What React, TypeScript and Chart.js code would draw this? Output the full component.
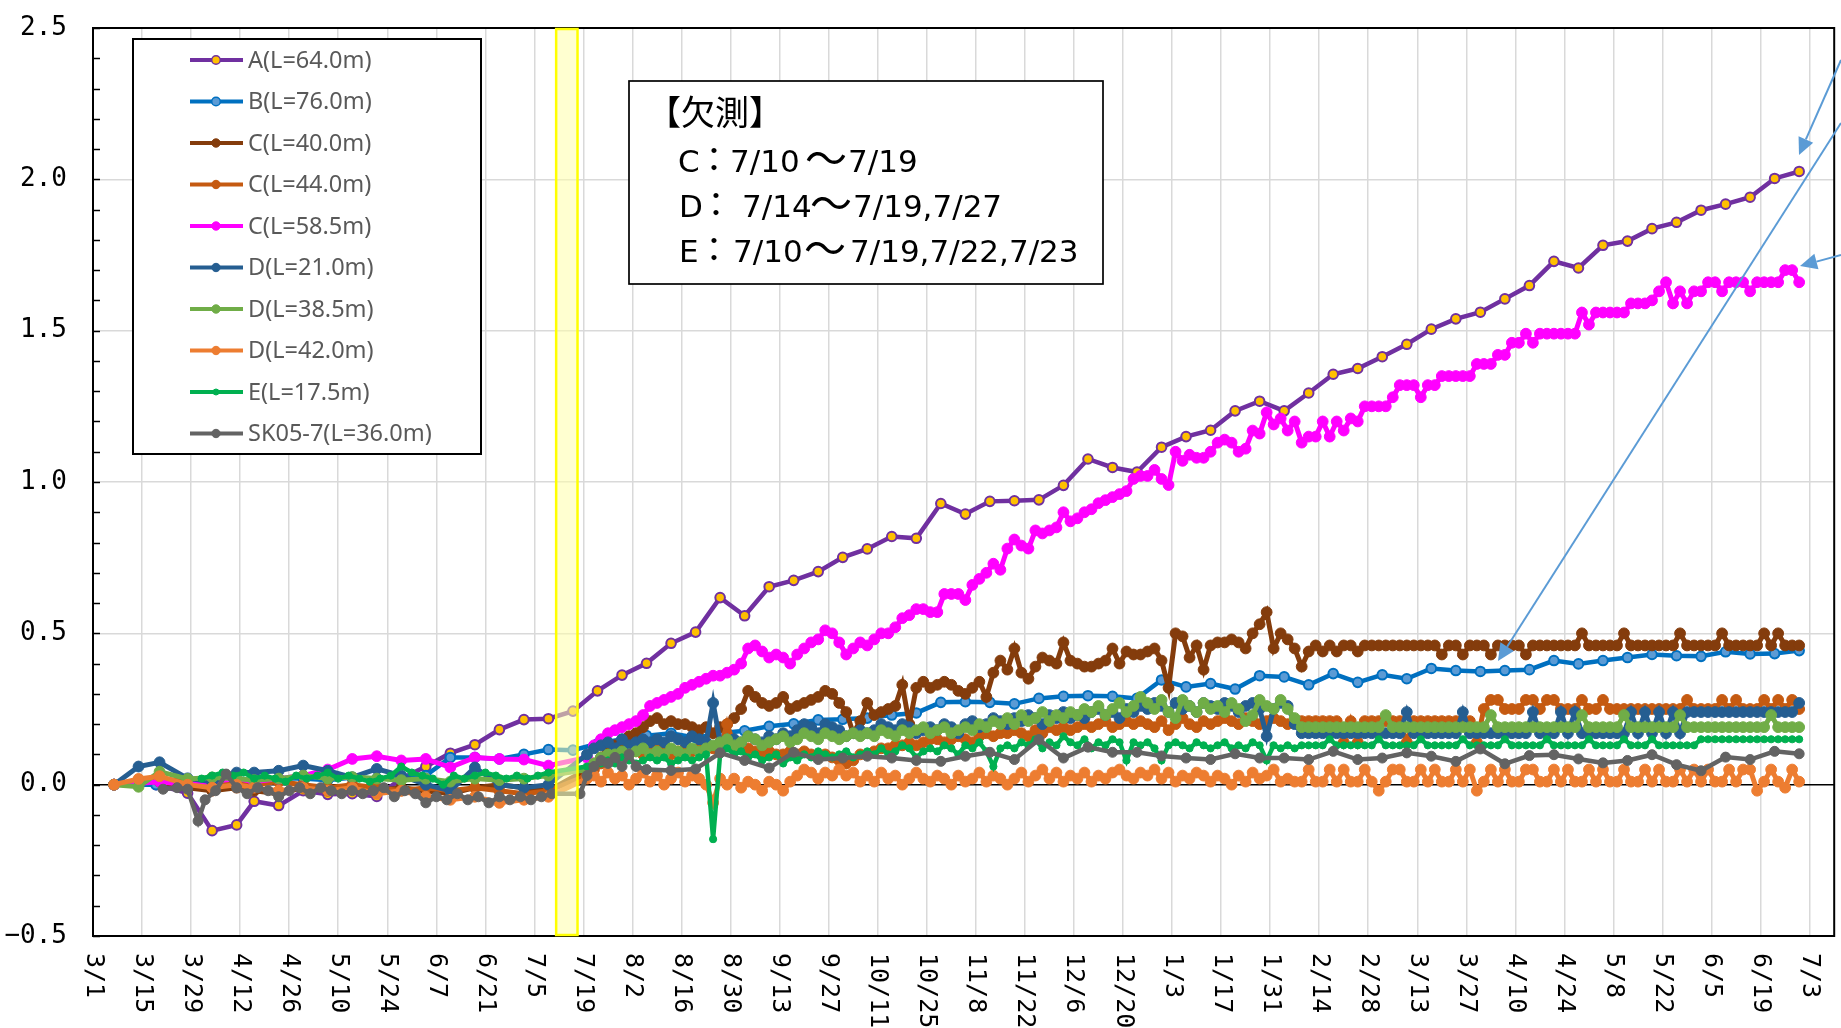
import React, { useEffect, useRef } from "react";
import { Chart, registerables } from "chart.js";

Chart.register(...registerables);

// ---------------- axis data ----------------
const tickLabels = ["3/1","3/15","3/29","4/12","4/26","5/10","5/24","6/7","6/21","7/5","7/19","8/2","8/16","8/30","9/13","9/27","10/11","10/25","11/8","11/22","12/6","12/20","1/3","1/17","1/31","2/14","2/28","3/13","3/27","4/10","4/24","5/8","5/22","6/5","6/19","7/3"];
const tickStepDays = 14;
const xMaxDay = 497;
const yTicks = [-0.5, 0, 0.5, 1, 1.5, 2, 2.5];
const missingBand = [132.2, 138.3];

const seriesNames = ["A(L=64.0m)","B(L=76.0m)","C(L=40.0m)","C(L=44.0m)","C(L=58.5m)","D(L=21.0m)","D(L=38.5m)","D(L=42.0m)","E(L=17.5m)","SK05-7(L=36.0m)"];

// ---------------- weekly series (day offset from 3/1) ----------------
const weeklyDays = [6,18,27,34,41,46,53,60,
  67,74,81,88,95,102,109,116,123,130,
  137,144,151,158,165,172,179,186,193,200,
  207,214,221,228,235,242,249,256,263,270,
  277,284,291,298,305,312,319,326,333,340,
  347,354,361,368,375,382,389,396,403,410,
  417,424,431,438,445,452,459,466,473,480,487];

const aVals = [0.0,0.0,-0.028,-0.152,-0.133,-0.055,-0.069,-0.02,
  -0.032,-0.03,-0.039,0.02,0.06,0.104,0.132,0.182,0.215,0.218,
  0.243,0.31,0.362,0.401,0.467,0.504,0.618,0.558,0.654,0.675,
  0.704,0.751,0.779,0.82,0.814,0.929,0.894,0.936,0.938,0.941,
  0.989,1.076,1.048,1.033,1.115,1.15,1.171,1.235,1.267,1.235,
  1.294,1.356,1.375,1.414,1.455,1.505,1.539,1.561,1.605,1.649,
  1.729,1.707,1.782,1.796,1.837,1.858,1.898,1.918,1.941,2.003,2.026];

const bVals = [0.0,0.0,0.005,0.0,0.01,0.015,0.02,0.02,
  0.015,0.024,0.02,0.025,0.03,0.09,0.09,0.085,0.1,0.116,
  0.114,0.135,0.15,0.162,0.17,0.155,0.17,0.178,0.193,0.201,
  0.214,0.216,0.22,0.23,0.237,0.272,0.274,0.272,0.267,0.285,
  0.292,0.294,0.292,0.285,0.346,0.323,0.334,0.316,0.36,0.356,
  0.33,0.367,0.338,0.363,0.35,0.384,0.377,0.374,0.377,0.38,
  0.41,0.399,0.41,0.42,0.43,0.426,0.424,0.439,0.432,0.433,0.443];

// ---------------- early (manual) readings ----------------
const earlyDays = [6,13,19,27,34,41,46,53,60,67,74,81,88,95,102,109,116,123,130];
const c40Early = [0,0.01,0.01,-0.01,-0.02,-0.01,-0.02,-0.03,-0.01,-0.02,-0.01,-0.02,-0.01,-0.02,-0.03,-0.01,0.0,-0.01,-0.02];
const c44Early = [0,0.015,0.02,0.01,0.0,0.01,0.0,0.01,0.0,-0.01,0.0,-0.01,-0.02,-0.01,-0.02,-0.01,-0.02,-0.03,-0.02];
const c585Early = [0,0.005,0.01,0.0,0.01,0.02,0.01,0.02,0.03,0.05,0.085,0.094,0.08,0.085,0.057,0.09,0.085,0.083,0.063];
const d21Early = [0,0.06,0.074,0.021,0.01,0.04,0.04,0.046,0.063,0.046,0.024,0.052,0.03,0.0,-0.02,0.057,0.0,-0.01,0.0];
const d385Early = [0,-0.007,0.043,0.019,0.024,0.02,0.015,0.02,0.03,0.02,0.025,0.02,0.015,0.02,0.01,0.02,0.015,0.02,0.03];
const d42Early = [0,0.019,0.028,0.0,-0.01,0.0,-0.01,-0.02,-0.01,-0.02,-0.01,-0.03,-0.02,-0.04,-0.05,-0.04,-0.06,-0.05,-0.04];

const eEarlyDays = [31,34,37,40,43,46,49,52,55,58,61,64,67,70,73,76,79,82,85,88,91,94,97,100,103,106,109,112,115,118,121,124,127,130];
const eEarly = [0.02,0.03,0.04,0.03,0.04,0.02,0.03,0.02,0.01,0.03,0.02,0.03,0.04,0.02,0.03,0.02,0.01,0.02,0.03,0.06,0.04,0.03,0.02,0.0,0.03,0.02,0.03,0.04,0.03,0.02,0.03,0.02,0.03,0.04];

const skEarlyDays = [20,24,27,30,32,35,38,41,44,47,50,53,56,59,62,65,68,71,74,77,80,83,86,89,92,95,98,101,104,107,110,113,116,119,122,125,128,131,139];
const skEarly = [-0.015,-0.01,-0.015,-0.12,-0.05,-0.02,0.035,-0.01,-0.03,-0.01,-0.02,-0.04,-0.02,-0.01,-0.03,-0.01,-0.02,-0.03,-0.02,-0.03,-0.02,-0.01,-0.04,-0.02,-0.03,-0.06,-0.04,-0.05,-0.03,-0.05,-0.04,-0.06,-0.04,-0.05,-0.04,-0.05,-0.04,-0.03,-0.03];
const skMidDays = [141,143,145,147,149,151,153,155,158];
const skMid = [0.03,0.06,0.08,0.07,0.09,0.06,0.1,0.06,0.05];
const skLate = [0.047,0.052,0.105,0.08,0.055,0.107,0.083,0.088,0.094,0.088,0.08,0.077,0.094,0.107,0.083,0.149,0.088,0.124,0.107,0.107,0.095,0.088,0.083,0.102,0.088,0.088,0.083,0.11,0.083,0.088,0.105,0.094,0.077,0.118,0.069,0.096,0.099,0.085,0.072,0.08,0.099,0.066,0.046,0.091,0.083,0.11,0.102];

// ---------------- automatic readings, every second day from 7/20 ----------------
const denseDays = Array.from({ length: 174 }, (_, i) => 141 + 2 * i);

const c40Dense = [0.05,0.07,0.09,0.11,0.13,0.14,0.16,0.17,0.19,0.21,
  0.22,0.2,0.21,0.2,0.2,0.19,0.18,0.19,0.17,0.19,
  0.2,0.22,0.25,0.31,0.29,0.27,0.26,0.27,0.29,0.25,
  0.26,0.27,0.28,0.29,0.31,0.3,0.27,0.24,0.17,0.21,
  0.27,0.23,0.24,0.25,0.26,0.33,0.2,0.32,0.34,0.32,
  0.33,0.34,0.33,0.31,0.3,0.32,0.34,0.29,0.37,0.41,
  0.38,0.45,0.37,0.35,0.39,0.42,0.41,0.4,0.47,0.41,
  0.4,0.39,0.39,0.4,0.41,0.45,0.4,0.44,0.43,0.43,
  0.44,0.45,0.41,0.32,0.5,0.49,0.42,0.46,0.38,0.46,
  0.47,0.47,0.48,0.47,0.45,0.5,0.53,0.57,0.45,0.5,
  0.48,0.45,0.39,0.44,0.46,0.44,0.46,0.44,0.46,0.46,
  0.44,0.46,0.46,0.46,0.46,0.46,0.46,0.46,0.46,0.46,
  0.46,0.46,0.43,0.46,0.46,0.43,0.46,0.46,0.46,0.43,
  0.46,0.46,0.46,0.46,0.43,0.46,0.46,0.46,0.46,0.46,
  0.46,0.46,0.5,0.46,0.46,0.46,0.46,0.46,0.5,0.46,
  0.46,0.46,0.46,0.46,0.46,0.46,0.5,0.46,0.46,0.46,
  0.46,0.46,0.5,0.46,0.46,0.46,0.46,0.46,0.5,0.46,
  0.5,0.46,0.46,0.46];

const c44Dense = [0.03,0.05,0.07,0.08,0.09,0.1,0.1,0.11,0.1,0.11,
  0.12,0.11,0.1,0.11,0.12,0.11,0.12,0.13,0.12,0.12,
  0.2,0.13,0.12,0.12,0.11,0.1,0.11,0.1,0.1,0.11,
  0.1,0.11,0.1,0.09,0.1,0.09,0.08,0.07,0.08,0.1,
  0.1,0.11,0.12,0.12,0.13,0.13,0.14,0.13,0.14,0.15,
  0.15,0.14,0.15,0.16,0.15,0.14,0.16,0.17,0.16,0.17,
  0.17,0.18,0.17,0.16,0.18,0.17,0.19,0.18,0.19,0.18,
  0.19,0.2,0.19,0.2,0.21,0.19,0.2,0.21,0.2,0.21,
  0.2,0.19,0.21,0.18,0.2,0.22,0.2,0.19,0.21,0.2,
  0.21,0.22,0.21,0.2,0.22,0.21,0.2,0.21,0.22,0.21,
  0.2,0.21,0.21,0.21,0.21,0.21,0.21,0.21,0.14,0.21,
  0.14,0.21,0.21,0.21,0.21,0.21,0.21,0.14,0.21,0.21,
  0.21,0.21,0.21,0.21,0.21,0.21,0.21,0.14,0.25,0.28,
  0.28,0.25,0.25,0.25,0.28,0.28,0.25,0.28,0.28,0.25,
  0.25,0.25,0.28,0.25,0.25,0.28,0.25,0.25,0.25,0.25,
  0.25,0.25,0.25,0.25,0.25,0.25,0.25,0.28,0.25,0.25,
  0.25,0.25,0.28,0.25,0.28,0.25,0.25,0.25,0.28,0.25,
  0.28,0.25,0.28,0.25];

const c585Dense = [0.09,0.13,0.15,0.17,0.18,0.19,0.2,0.21,0.23,0.26,
  0.27,0.28,0.29,0.3,0.32,0.33,0.34,0.35,0.36,0.36,
  0.37,0.38,0.4,0.45,0.46,0.44,0.42,0.43,0.42,0.4,
  0.43,0.45,0.47,0.48,0.51,0.5,0.47,0.43,0.45,0.47,
  0.46,0.48,0.5,0.5,0.52,0.55,0.56,0.58,0.58,0.57,
  0.57,0.63,0.63,0.63,0.61,0.66,0.68,0.7,0.73,0.71,
  0.78,0.81,0.79,0.78,0.84,0.83,0.84,0.85,0.9,0.87,
  0.88,0.9,0.91,0.93,0.94,0.95,0.96,0.97,1.01,1.02,
  1.02,1.04,1.01,0.99,1.1,1.07,1.09,1.08,1.08,1.1,
  1.13,1.14,1.13,1.1,1.11,1.17,1.16,1.23,1.19,1.21,
  1.17,1.2,1.13,1.15,1.15,1.2,1.15,1.2,1.17,1.21,
  1.2,1.25,1.25,1.25,1.25,1.28,1.32,1.32,1.32,1.28,
  1.32,1.32,1.35,1.35,1.35,1.35,1.35,1.39,1.39,1.39,
  1.42,1.42,1.46,1.46,1.49,1.46,1.49,1.49,1.49,1.49,
  1.49,1.49,1.56,1.52,1.56,1.56,1.56,1.56,1.56,1.59,
  1.59,1.59,1.6,1.63,1.66,1.59,1.63,1.59,1.63,1.63,
  1.66,1.66,1.63,1.66,1.66,1.66,1.63,1.66,1.66,1.66,
  1.66,1.7,1.7,1.66];

const d21Dense = [0.1,0.12,0.13,0.14,0.12,0.15,0.13,0.14,0.15,0.14,
  0.15,0.14,0.16,0.15,0.14,0.16,0.15,0.14,0.27,0.14,
  0.13,0.15,0.14,0.16,0.15,0.14,0.16,0.15,0.17,0.16,
  0.18,0.2,0.19,0.17,0.2,0.19,0.18,0.16,0.17,0.18,
  0.17,0.18,0.2,0.19,0.18,0.2,0.19,0.17,0.18,0.19,
  0.18,0.2,0.19,0.17,0.2,0.21,0.19,0.2,0.22,0.21,
  0.2,0.22,0.21,0.23,0.22,0.2,0.23,0.22,0.24,0.22,
  0.23,0.22,0.24,0.25,0.23,0.24,0.22,0.25,0.24,0.26,
  0.25,0.27,0.26,0.24,0.27,0.25,0.26,0.24,0.27,0.26,
  0.25,0.27,0.26,0.24,0.26,0.27,0.25,0.16,0.25,0.27,
  0.26,0.2,0.17,0.17,0.17,0.17,0.17,0.17,0.17,0.17,
  0.17,0.17,0.17,0.17,0.17,0.17,0.17,0.24,0.17,0.17,
  0.17,0.17,0.17,0.17,0.17,0.24,0.17,0.17,0.17,0.17,
  0.17,0.17,0.17,0.17,0.17,0.24,0.17,0.17,0.17,0.24,
  0.17,0.24,0.17,0.17,0.17,0.17,0.17,0.17,0.17,0.24,
  0.17,0.24,0.17,0.24,0.17,0.24,0.17,0.24,0.24,0.24,
  0.24,0.24,0.24,0.24,0.24,0.24,0.24,0.24,0.24,0.24,
  0.24,0.24,0.24,0.27];

const d385Dense = [0.05,0.07,0.09,0.1,0.1,0.11,0.1,0.11,0.12,0.1,
  0.11,0.1,0.12,0.11,0.1,0.12,0.11,0.12,0.13,0.14,
  0.15,0.13,0.14,0.16,0.15,0.13,0.14,0.15,0.16,0.14,
  0.15,0.17,0.16,0.15,0.17,0.16,0.15,0.16,0.17,0.16,
  0.17,0.16,0.18,0.17,0.16,0.18,0.17,0.18,0.19,0.17,
  0.18,0.19,0.17,0.18,0.19,0.18,0.2,0.19,0.21,0.2,
  0.22,0.2,0.23,0.21,0.22,0.24,0.21,0.23,0.22,0.24,
  0.23,0.25,0.24,0.26,0.23,0.25,0.27,0.24,0.26,0.29,
  0.27,0.25,0.28,0.24,0.22,0.28,0.26,0.24,0.27,0.25,
  0.26,0.24,0.27,0.25,0.21,0.23,0.28,0.26,0.25,0.28,
  0.25,0.22,0.19,0.19,0.19,0.19,0.19,0.19,0.19,0.19,
  0.19,0.19,0.19,0.19,0.23,0.19,0.19,0.19,0.19,0.19,
  0.19,0.19,0.19,0.19,0.19,0.19,0.19,0.19,0.19,0.23,
  0.19,0.19,0.19,0.19,0.19,0.19,0.19,0.19,0.19,0.19,
  0.19,0.19,0.23,0.19,0.19,0.19,0.19,0.19,0.23,0.19,
  0.19,0.19,0.19,0.19,0.19,0.19,0.23,0.19,0.19,0.19,
  0.19,0.19,0.19,0.19,0.19,0.19,0.19,0.19,0.19,0.23,
  0.19,0.19,0.19,0.19];

const d42Dense = [0.02,0.03,0.01,0.04,0.02,0.03,0.0,0.02,0.04,0.01,
  0.03,0.0,0.02,0.04,0.01,0.03,0.02,0.0,-0.06,0.02,
  0.0,0.02,-0.01,0.01,0.0,-0.02,0.01,0.0,-0.02,0.01,
  0.03,0.05,0.04,0.02,0.04,0.03,0.05,0.03,0.04,0.01,
  0.03,0.01,0.04,0.02,0.03,0.0,0.02,0.04,0.02,0.01,
  0.03,0.02,0.0,0.03,0.01,0.02,0.04,0.01,0.03,0.02,
  0.0,0.02,0.04,0.01,0.03,0.05,0.02,0.04,0.01,0.03,
  0.02,0.04,0.01,0.03,0.02,0.04,0.05,0.03,0.02,0.04,
  0.03,0.05,0.02,0.04,0.01,0.03,0.02,0.04,0.03,0.01,
  0.03,0.02,0.0,0.03,0.01,0.04,0.02,0.03,0.05,0.01,
  0.02,0.01,0.01,0.05,0.01,0.01,0.05,0.01,0.05,0.01,
  0.01,0.05,0.01,-0.02,0.01,0.05,0.05,0.01,0.01,0.05,
  0.01,0.05,0.01,0.01,0.05,0.01,0.05,-0.02,0.01,0.05,
  0.01,0.05,0.01,0.01,0.05,0.05,0.01,0.01,0.05,0.01,
  0.05,0.01,0.01,0.05,0.01,0.05,0.01,0.01,0.05,0.01,
  0.01,0.05,0.01,0.05,0.01,0.01,0.05,0.01,0.05,0.01,
  0.05,0.01,0.01,0.05,0.01,0.05,0.05,-0.02,0.01,0.05,
  0.01,-0.01,0.05,0.01];

const eDense = [0.06,null,0.07,0.08,0.07,0.09,0.08,0.07,0.08,0.09,
  0.08,0.09,0.07,0.08,0.09,0.08,0.09,0.1,-0.18,0.1,
  0.12,0.1,0.11,0.09,0.1,0.08,0.09,0.1,0.07,0.09,
  0.08,0.1,0.09,0.11,0.1,0.09,0.1,0.11,0.09,0.1,
  0.11,0.1,0.12,0.1,0.11,0.13,0.12,0.09,0.11,0.12,
  0.11,0.13,0.12,0.1,0.13,0.12,0.14,0.11,0.06,0.12,
  0.13,0.12,0.14,0.13,0.15,0.12,0.14,0.13,0.16,0.14,
  0.13,0.15,0.12,0.14,0.13,0.15,0.14,0.08,0.14,0.13,
  0.14,0.12,0.08,0.13,0.14,0.13,0.12,0.14,0.13,0.12,
  0.13,0.14,0.12,0.13,0.12,0.14,0.13,0.08,0.13,0.12,
  0.13,0.12,0.13,0.13,0.13,0.13,0.15,0.13,0.13,0.13,
  0.13,0.13,0.13,0.15,0.13,0.13,0.13,0.13,0.13,0.15,
  0.13,0.13,0.13,0.13,0.13,0.15,0.13,0.13,0.13,0.13,
  0.13,0.15,0.13,0.13,0.13,0.13,0.13,0.15,0.13,0.13,
  0.13,0.13,0.13,0.15,0.13,0.13,0.13,0.13,0.15,0.13,
  0.13,0.13,0.15,0.13,0.13,0.13,0.13,0.13,0.13,0.15,
  0.15,0.15,0.15,0.15,0.15,0.15,0.15,0.15,0.15,0.15,
  0.15,0.15,0.15,0.15];

// ---------------- styles ----------------
const seriesStyles = [
  { color: "#7030A0", fill: "#FFC000", r: 4.8, bw: 2, lw: 4.5, lr: 4.3 },
  { color: "#0070C0", fill: "#5B9BD5", r: 4.8, bw: 2, lw: 4.5, lr: 4.3 },
  { color: "#843C0C", fill: "#843C0C", r: 5.4, bw: 1, lw: 5, lr: 4.2 },
  { color: "#C55A11", fill: "#C55A11", r: 5.4, bw: 1, lw: 5, lr: 4.2 },
  { color: "#FF00FF", fill: "#FF00FF", r: 5.4, bw: 1, lw: 5, lr: 4.2 },
  { color: "#255E91", fill: "#255E91", r: 5.4, bw: 1, lw: 5, lr: 4.2 },
  { color: "#70AD47", fill: "#70AD47", r: 5.4, bw: 1, lw: 5, lr: 4.2 },
  { color: "#ED7D31", fill: "#ED7D31", r: 5.4, bw: 1, lw: 5, lr: 4.2 },
  { color: "#00B050", fill: "#00B050", r: 3.6, bw: 1, lw: 4.5, lr: 3 },
  { color: "#636363", fill: "#636363", r: 5, bw: 1, lw: 4.5, lr: 4.2 },
];

const noteLines = [
  [["【欠測】", 647, "cjk"]],
  [["C", 678, "lat"], ["：", 697, "cjk"], ["7/10", 730, "lat"], ["～", 805, "wave"], ["7/19", 848, "lat"]],
  [["D", 679, "lat"], ["：", 699, "cjk"], ["7/14", 742, "lat"], ["～", 810, "wave"], ["7/19,7/27", 853, "lat"]],
  [["E", 679, "lat"], ["：", 697, "cjk"], ["7/10", 733, "lat"], ["～", 804, "wave"], ["7/19,7/22,7/23", 850, "lat"]],
];
const noteBaselines = [125, 172, 217, 262];

const calloutArrows = [
  [1841, 60, 1799, 155],
  [1841, 123, 1498, 661],
  [1841, 255, 1800, 266],
];

const mk = (days: number[], vals: (number | null)[]) => days.map((d, i) => ({ x: d, y: vals[i] }));

function drawArrow(ctx: CanvasRenderingContext2D, x1: number, y1: number, x2: number, y2: number) {
  const ang = Math.atan2(y2 - y1, x2 - x1);
  const len = 17, hw = 8;
  const bx = x2 - len * Math.cos(ang), by = y2 - len * Math.sin(ang);
  ctx.beginPath(); ctx.moveTo(x1, y1); ctx.lineTo(bx, by); ctx.stroke();
  ctx.beginPath(); ctx.moveTo(x2, y2);
  ctx.lineTo(bx + hw * Math.sin(ang), by - hw * Math.cos(ang));
  ctx.lineTo(bx - hw * Math.sin(ang), by + hw * Math.cos(ang));
  ctx.closePath(); ctx.fill();
}

const overlayPlugin: any = {
  id: "overlay",
  beforeDatasetsDraw(chart: any) {
    const { ctx, chartArea: a, scales } = chart;
    ctx.save();
    ctx.strokeStyle = "#000";
    ctx.lineWidth = 2;
    ctx.strokeRect(a.left, a.top, a.right - a.left, a.bottom - a.top);
    ctx.lineWidth = 1.5;
    for (let k = -5; k <= 25; k++) {
      const y = Math.round(scales.y.getPixelForValue(k / 10)) + 0.5;
      ctx.beginPath(); ctx.moveTo(a.left, y); ctx.lineTo(a.left + 7, y); ctx.stroke();
    }
    ctx.restore();
  },
  afterDatasetsDraw(chart: any) {
    const { ctx, chartArea: a, scales } = chart;
    const x1 = scales.x.getPixelForValue(missingBand[0]);
    const x2 = scales.x.getPixelForValue(missingBand[1]);
    ctx.save();
    ctx.fillStyle = "rgba(255,255,170,0.55)";
    ctx.fillRect(x1, a.top + 1, x2 - x1, a.bottom - a.top - 2);
    ctx.strokeStyle = "#FFFF00";
    ctx.lineWidth = 2.5;
    ctx.strokeRect(x1, a.top + 1, x2 - x1, a.bottom - a.top - 2);
    ctx.restore();
  },
  afterDraw(chart: any) {
    const { ctx, chartArea: a, scales } = chart;
    ctx.save();
    // y labels
    ctx.fillStyle = "#000";
    ctx.font = '26px "DejaVu Sans Mono"';
    ctx.textAlign = "right";
    ctx.textBaseline = "middle";
    yTicks.forEach((v) => {
      const t = (v < 0 ? "\u2212" : "") + Math.abs(v).toFixed(1);
      ctx.fillText(t, 67, scales.y.getPixelForValue(v));
    });
    // x labels (rotated clockwise)
    ctx.font = '25px "DejaVu Sans Mono"';
    ctx.textAlign = "left";
    tickLabels.forEach((lab, i) => {
      const x = scales.x.getPixelForValue(i * tickStepDays);
      ctx.save();
      ctx.translate(x, a.bottom + 17);
      ctx.rotate(Math.PI / 2);
      ctx.fillText(lab, 0, 0);
      ctx.restore();
    });
    // legend
    const lx = 133, ly = 39, lw = 348, lh = 415;
    ctx.fillStyle = "#fff";
    ctx.fillRect(lx, ly, lw, lh);
    ctx.strokeStyle = "#000";
    ctx.lineWidth = 2;
    ctx.strokeRect(lx, ly, lw, lh);
    ctx.font = '23.5px "Noto Sans"';
    ctx.textBaseline = "middle";
    ctx.textAlign = "left";
    seriesNames.forEach((name, i) => {
      const st = seriesStyles[i];
      const y = 60 + i * 41.5;
      ctx.strokeStyle = st.color;
      ctx.lineWidth = 4;
      ctx.beginPath(); ctx.moveTo(190, y); ctx.lineTo(243, y); ctx.stroke();
      ctx.beginPath(); ctx.arc(216, y, st.lr, 0, Math.PI * 2);
      ctx.fillStyle = st.fill; ctx.fill();
      ctx.lineWidth = i < 2 ? 1.5 : 1; ctx.strokeStyle = st.color; ctx.stroke();
      ctx.fillStyle = "#595959";
      ctx.fillText(name, 248, y + 1);
    });
    // note box
    ctx.fillStyle = "#fff";
    ctx.fillRect(629, 81, 474, 203);
    ctx.strokeStyle = "#000";
    ctx.lineWidth = 1.7;
    ctx.strokeRect(629, 81, 474, 203);
    ctx.fillStyle = "#000";
    ctx.textBaseline = "alphabetic";
    noteLines.forEach((segs, li) => {
      segs.forEach(([t, x, kind]: any) => {
        let yy = noteBaselines[li];
        if (kind === "cjk") ctx.font = '34px "Noto Sans CJK JP"';
        else if (kind === "wave") { ctx.font = '42px "Noto Sans CJK JP"'; yy += 2; }
        else ctx.font = '31px "DejaVu Sans"';
        ctx.fillText(t, x, yy);
      });
    });
    // callout arrows
    ctx.strokeStyle = "#5B9BD5";
    ctx.fillStyle = "#5B9BD5";
    ctx.lineWidth = 2;
    calloutArrows.forEach(([x1, y1, x2, y2]) => drawArrow(ctx, x1, y1, x2, y2));
    ctx.restore();
  },
};

export default function App() {
  const ref = useRef<HTMLCanvasElement | null>(null);
  useEffect(() => {
    document.body.style.margin = "0";
    document.body.style.overflow = "hidden";
    const seriesData = [
      mk(weeklyDays, aVals),
      mk(weeklyDays, bVals),
      [...mk(earlyDays, c40Early), ...mk(denseDays, c40Dense)],
      [...mk(earlyDays, c44Early), ...mk(denseDays, c44Dense)],
      [...mk(earlyDays, c585Early), ...mk(denseDays, c585Dense)],
      [...mk(earlyDays, d21Early), ...mk(denseDays, d21Dense)],
      [...mk(earlyDays, d385Early), ...mk(denseDays, d385Dense)],
      [...mk(earlyDays, d42Early), ...mk(denseDays, d42Dense)],
      [...mk(eEarlyDays, eEarly), ...mk(denseDays, eDense)],
      [...mk(skEarlyDays, skEarly), ...mk(skMidDays, skMid), ...mk(weeklyDays.slice(22), skLate)],
    ];
    const datasets = seriesData.map((data, i) => {
      const st = seriesStyles[i];
      return {
        label: seriesNames[i],
        data,
        borderColor: st.color,
        backgroundColor: st.fill,
        pointBackgroundColor: st.fill,
        pointBorderColor: st.color,
        pointBorderWidth: st.bw,
        pointRadius: st.r,
        borderWidth: st.lw,
        tension: 0,
        spanGaps: true,
        order: 10 - i,
      };
    });
    const chart = new Chart(ref.current as HTMLCanvasElement, {
      type: "line",
      data: { datasets },
      options: {
        animation: false,
        responsive: false,
        devicePixelRatio: 1,
        layout: { padding: { top: 28, right: 5, left: 0, bottom: 0 } },
        plugins: { legend: { display: false }, tooltip: { enabled: false } },
        scales: {
          x: {
            type: "linear",
            min: 0,
            max: xMaxDay,
            afterBuildTicks: (s: any) => { s.ticks = tickLabels.map((_, i) => ({ value: i * tickStepDays })); },
            afterFit: (s: any) => { s.height = 92; },
            ticks: { display: false },
            grid: { color: "#D9D9D9", lineWidth: 1.5, drawTicks: false },
            border: { display: false },
          },
          y: {
            type: "linear",
            min: -0.5,
            max: 2.5,
            afterBuildTicks: (s: any) => { s.ticks = yTicks.map((v) => ({ value: v })); },
            afterFit: (s: any) => { s.width = 93; },
            ticks: { display: false },
            grid: {
              color: (c: any) => (c.tick && c.tick.value === 0 ? "#000000" : "#D9D9D9"),
              lineWidth: 1.5,
              drawTicks: false,
            },
            border: { display: false },
          },
        },
      } as any,
      plugins: [overlayPlugin],
    });
    return () => chart.destroy();
  }, []);
  return (
    <div style={{ width: 1841, height: 1028 }}>
      <canvas ref={ref} width={1841} height={1028} style={{ display: "block" }} />
    </div>
  );
}
